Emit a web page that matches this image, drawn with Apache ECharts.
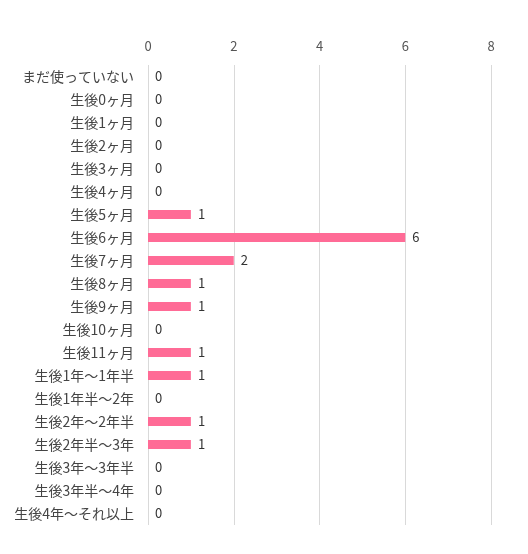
<!DOCTYPE html>
<html>
<head>
<meta charset="utf-8">
<script src="https://cdn.jsdelivr.net/npm/echarts@6/dist/echarts.min.js"></script>
<style>
  html, body { margin: 0; padding: 0; background: #fff; }
  #chart { width: 528px; height: 554px; }
</style>
</head>
<body>
<div id="chart"></div>
<script>
// categories top to bottom
const categories = [
  'まだ使っていない', '生後0ヶ月', '生後1ヶ月', '生後2ヶ月', '生後3ヶ月', '生後4ヶ月',
  '生後5ヶ月', '生後6ヶ月', '生後7ヶ月', '生後8ヶ月', '生後9ヶ月', '生後10ヶ月',
  '生後11ヶ月', '生後1年〜1年半', '生後1年半〜2年', '生後2年〜2年半', '生後2年半〜3年',
  '生後3年〜3年半', '生後3年半〜4年', '生後4年〜それ以上'
];
const counts = [0, 0, 0, 0, 0, 0, 1, 6, 2, 1, 1, 0, 1, 1, 0, 1, 1, 0, 0, 0];
const xTicks = [0, 2, 4, 6, 8];

const font = '"Noto Sans CJK JP", "Noto Sans", sans-serif';
const chart = echarts.init(document.getElementById('chart'));

chart.setOption({
  animation: false,
  grid: { left: 148, right: 37, top: 65, bottom: 29, containLabel: false },
  xAxis: {
    type: 'value',
    position: 'top',
    min: xTicks[0],
    max: xTicks[xTicks.length - 1],
    interval: 2,
    axisLine: { show: false },
    axisTick: { show: false },
    axisLabel: { color: '#555', fontSize: 13, fontFamily: font, margin: 12 },
    splitLine: { lineStyle: { color: '#d9d9d9', width: 1 } }
  },
  yAxis: {
    type: 'category',
    inverse: true,
    data: categories,
    axisLine: { show: false },
    axisTick: { show: false },
    axisLabel: { color: '#444', fontSize: 14, fontFamily: font, margin: 14 }
  },
  series: [{
    type: 'bar',
    data: counts,
    barWidth: 9,
    itemStyle: { color: '#ff6b96' },
    label: {
      show: true,
      position: 'right',
      distance: 7,
      color: '#333',
      fontSize: 13,
      fontFamily: font
    }
  }]
});
</script>
</body>
</html>
